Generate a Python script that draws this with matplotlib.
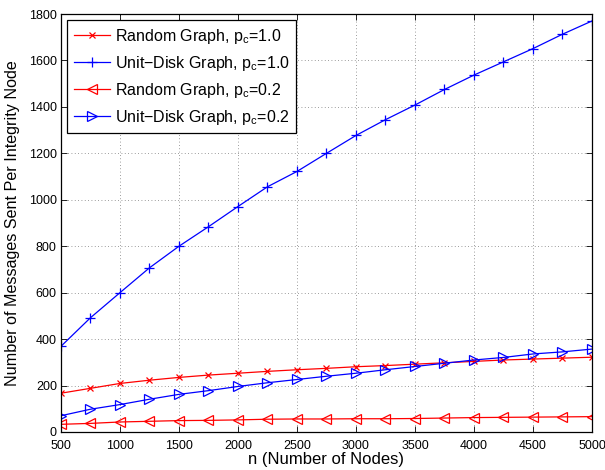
import numpy as np
import matplotlib
matplotlib.use('Agg')
import matplotlib.pyplot as plt

plt.rcParams['font.family'] = ['Liberation Sans', 'DejaVu Sans']
plt.rcParams['mathtext.default'] = 'regular'

n_nodes = [500, 750, 1000, 1250, 1500, 1750, 2000, 2250, 2500, 2750,
           3000, 3250, 3500, 3750, 4000, 4250, 4500, 4750, 5000]

random_p10 = [167, 188, 209, 223, 235, 245, 253, 261, 268, 274,
              281, 286, 292, 298, 304, 310, 314, 318, 322]
unitdisk_p10 = [369, 492, 600, 707, 800, 884, 971, 1056, 1122, 1200,
                1277, 1345, 1408, 1475, 1537, 1594, 1651, 1713, 1770]
random_p02 = [33, 37, 43, 46, 49, 50, 52, 55, 56, 56,
              57, 57, 58, 60, 62, 63, 64, 65, 66]
unitdisk_p02 = [70, 98, 118, 141, 162, 178, 196, 212, 226, 240,
                253, 268, 282, 296, 310, 321, 336, 345, 357]

labels = ['Random Graph, p$_c$=1.0', 'Unit\u2212Disk Graph, p$_c$=1.0',
          'Random Graph, p$_c$=0.2', 'Unit\u2212Disk Graph, p$_c$=0.2']

fig = plt.figure(figsize=(6.05, 4.70), dpi=100)
ax = fig.add_axes([0.1008, 0.0809, 0.8777, 0.8893])

ax.plot(n_nodes, random_p10, color='red', marker='x', ms=4, mew=0.9, lw=0.9, label=labels[0])
ax.plot(n_nodes, unitdisk_p10, color='blue', marker='+', ms=7, mew=0.9, lw=0.9, label=labels[1])
ax.plot(n_nodes, random_p02, color='red', marker='<', ms=7, mfc='none', mew=0.9, lw=0.9, label=labels[2])
ax.plot(n_nodes, unitdisk_p02, color='blue', marker='>', ms=7, mfc='none', mew=0.9, lw=0.9, label=labels[3])

ax.set_xlim(500, 5000)
ax.set_ylim(0, 1800)
ax.set_xticks(np.arange(500, 5001, 500))
ax.set_yticks(np.arange(0, 1801, 200))
ax.tick_params(direction='in', top=True, right=True, labelsize=9, length=4, width=0.6)
ax.tick_params(axis='x', pad=5.5)
ax.tick_params(axis='y', pad=3)
ax.grid(True, linestyle=(0, (1, 3)), color='#444444', lw=0.6, alpha=0.7)
for s in ax.spines.values():
    s.set_linewidth(0.9)

ax.set_xlabel('n (Number of Nodes)', fontsize=12, labelpad=0)
ax.set_ylabel('Number of Messages Sent Per Integrity Node', fontsize=11.6, labelpad=6)

leg = ax.legend(loc='upper left', fontsize=11.5, handlelength=2.3, borderaxespad=0.4,
                fancybox=False, framealpha=1, edgecolor='black', labelspacing=0.5,
                handletextpad=0.3, borderpad=0.4)
leg.get_frame().set_linewidth(0.9)

fig.savefig('out.png', dpi=100)
